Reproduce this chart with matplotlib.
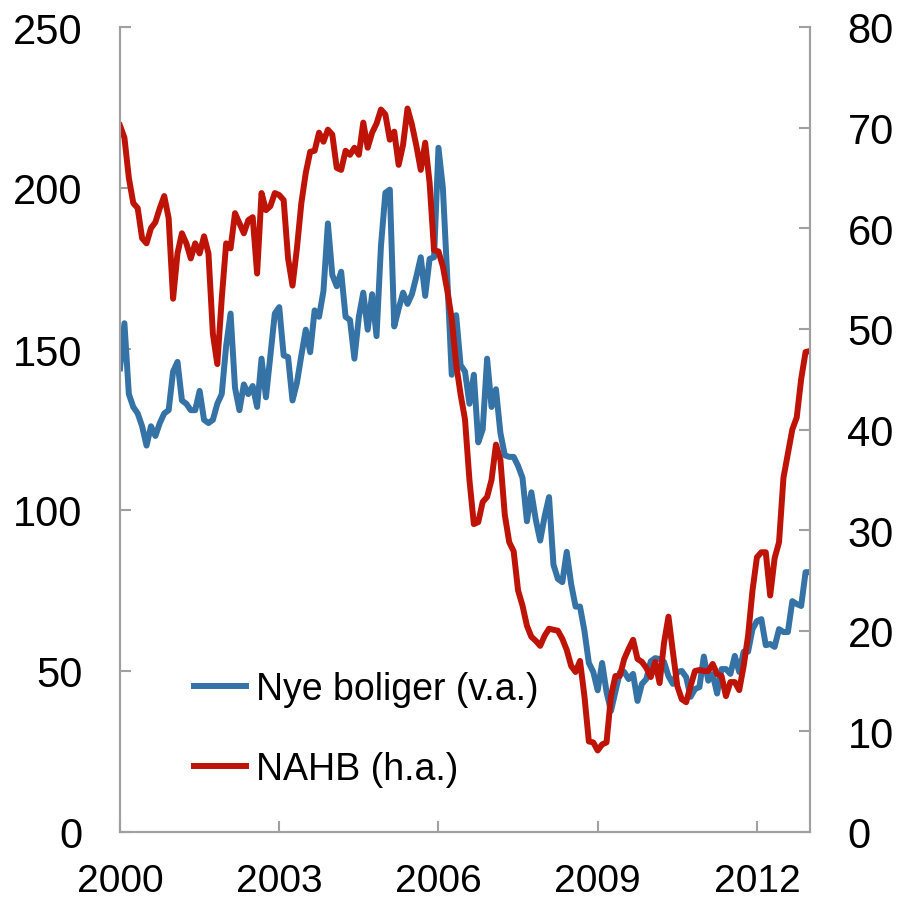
import matplotlib
matplotlib.use("Agg")
import matplotlib.pyplot as plt
import numpy as np

# monthly, Jan 2000 .. Jan 2013
nye_boliger = [
    144, 158, 136, 132, 130, 126, 120, 126, 123, 127, 130, 131,
    143, 146, 134, 133, 131, 131, 137, 128, 127, 128, 133, 136,
    151, 161, 138, 131, 139, 136, 138.5, 132, 147, 135, 148, 161,
    163, 148, 147.5, 134, 139.5, 148, 156, 149, 162, 160, 168, 189,
    173, 169.5, 174, 160, 159, 147, 160, 167.5, 156, 167, 154, 182,
    198.5, 199.5, 157, 162.5, 167.5, 164, 167, 172.5, 178.5, 166.5, 178, 178.5,
    212.5, 200, 172, 142, 160.5, 145, 143, 133, 142, 121, 125, 147,
    132, 137.5, 124, 117, 116.5, 116.5, 113.7, 110, 96.5, 105.5, 97, 90.5,
    98, 104, 83, 78.6, 77.6, 87, 77, 70, 70, 62.5, 52.5, 49.7,
    44, 52.5, 43.5, 37.6, 43.5, 49.5, 49.7, 47.5, 49.1, 40.7, 46, 47.5,
    53, 54, 53.7, 52.8, 48.4, 46, 49.7, 50, 48.1, 42, 44.4, 45,
    54.5, 47, 49, 43, 50.6, 50.6, 49.1, 54.7, 49.7, 56, 56, 63,
    65.5, 66.1, 58, 58.4, 57.5, 63, 62.1, 62.1, 71.7, 70.8, 70.2, 80.7,
    80.7,
]
nahb = [
    70.2, 69.0, 65.0, 62.5, 62.0, 59.0, 58.5, 60.0, 60.6, 62.0, 63.2, 61.0,
    53.0, 57.5, 59.5, 58.5, 57.0, 58.5, 57.5, 59.2, 57.5, 49.5, 46.5, 53.0,
    58.5, 58.0, 61.5, 60.5, 59.5, 60.8, 61.1, 55.5, 63.5, 61.8, 62.2, 63.5,
    63.3, 62.8, 57.0, 54.3, 58.0, 62.5, 65.5, 67.6, 67.7, 69.5, 68.6, 69.8,
    69.3, 66.0, 65.8, 67.7, 67.3, 68.0, 67.3, 70.5, 68.0, 69.5, 70.4, 71.8,
    71.3, 68.8, 69.6, 66.3, 68.3, 71.9, 70.3, 68.2, 65.8, 68.5, 64.5, 57.8,
    57.7, 56.2, 53.8, 51.0, 46.5, 43.5, 41.0, 35.0, 30.6, 30.8, 32.8, 33.3,
    35.0, 38.5, 37.0, 31.5, 28.8, 27.9, 24.0, 22.5, 20.5, 19.4, 19.0, 18.5,
    19.5, 20.2, 20.1, 20.0, 19.2, 18.1, 16.5, 15.9, 17.0, 13.5, 9.0, 8.9,
    8.1, 8.7, 8.9, 13.5, 15.5, 15.5, 17.2, 18.2, 19.1, 17.2, 16.9, 16.3,
    15.4, 16.9, 14.8, 18.8, 21.4, 17.9, 14.5, 13.2, 12.9, 14.5, 16.0, 16.1,
    16.0, 16.0, 16.7, 15.7, 15.5, 13.5, 14.9, 14.9, 14.1, 16.5, 19.5, 24.0,
    27.3, 27.8, 27.8, 23.5, 27.2, 28.8, 35.2, 37.6, 40.0, 41.2, 45.0, 47.7,
    47.8,
]
years = [2000, 2003, 2006, 2009, 2012]

blue, red, grey = "#3572A5", "#BE1408", "#A0A0A0"
plt.rcParams.update({"font.family": "Liberation Sans", "font.size": 30})

months = np.arange(len(nye_boliger))
fig = plt.figure(figsize=(9.0, 9.04), dpi=100)
ax = fig.add_axes([120 / 900, 1 - 833 / 904, 690 / 900, 805 / 904])
ax2 = ax.twinx()

l1, = ax.plot(months, nye_boliger, color=blue, lw=4.3, solid_joinstyle="round",
              label="Nye boliger (v.a.)")
l2, = ax2.plot(months, nahb, color=red, lw=4.3, solid_joinstyle="round",
               label="NAHB (h.a.)")

ax.set_xlim(0, 156)
ax.set_ylim(0, 250)
ax2.set_ylim(0, 80)
ax.set_xticks([(y - 2000) * 12 for y in years])
ax.set_xticklabels([str(y) for y in years])
ax.set_yticks(np.arange(0, 251, 50))
ax2.set_yticks(np.arange(0, 81, 10))

for a in (ax, ax2):
    a.spines["top"].set_visible(False)
    for s in ("left", "right", "bottom"):
        a.spines[s].set_color(grey)
        a.spines[s].set_linewidth(1.5)
    a.tick_params(direction="in", length=8, width=1.5, color=grey, pad=27,
                  labelsize=30)
ax.tick_params(axis="x", pad=22, labelsize=28)

ax.legend(handles=[l1, l2], loc="upper left", bbox_to_anchor=(0.0855, 0.219),
          frameon=False, handlelength=1.39, handletextpad=0.27, labelspacing=1.19,
          fontsize=27, borderaxespad=0)

fig.savefig("out.png", dpi=100)
